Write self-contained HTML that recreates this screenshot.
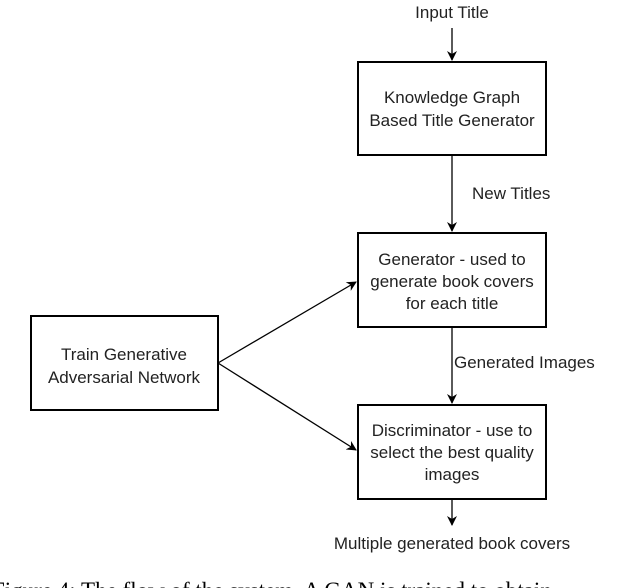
<!DOCTYPE html>
<html><head><style>
html,body{margin:0;padding:0;background:#fff;width:640px;height:588px;overflow:hidden}
svg{display:block}
text{font-family:"Liberation Sans",sans-serif;font-size:17px;fill:#222}
</style></head><body>
<svg width="640" height="588" viewBox="0 0 640 588">
<defs><marker id="a" markerWidth="10" markerHeight="10" refX="9" refY="5" orient="auto" markerUnits="userSpaceOnUse"><path d="M0,0 L10,5 L0,10 L3,5 z" fill="#000"/></marker></defs>
<g stroke="#000" stroke-width="2" fill="none">
<rect x="358" y="62" width="188" height="93"/>
<rect x="358" y="233" width="188" height="94"/>
<rect x="358" y="405" width="188" height="94"/>
<rect x="31" y="316" width="187" height="94"/>
</g>
<g stroke="#000" stroke-width="1.3" fill="none">
<line x1="452" y1="28" x2="452" y2="60" marker-end="url(#a)"/>
<line x1="452" y1="155" x2="452" y2="231" marker-end="url(#a)"/>
<line x1="452" y1="327" x2="452" y2="403" marker-end="url(#a)"/>
<line x1="452" y1="499" x2="452" y2="525" marker-end="url(#a)"/>
<line x1="218" y1="363" x2="356" y2="282" marker-end="url(#a)"/>
<line x1="218" y1="363" x2="356" y2="450" marker-end="url(#a)"/>
</g>
<g text-anchor="middle">
<text x="452" y="18">Input Title</text>
<text x="452" y="103">Knowledge Graph</text>
<text x="452" y="126">Based Title Generator</text>
<text x="452" y="265">Generator - used to</text>
<text x="452" y="287">generate book covers</text>
<text x="452" y="309">for each title</text>
<text x="452" y="436">Discriminator - use to</text>
<text x="452" y="458">select the best quality</text>
<text x="452" y="480">images</text>
<text x="124" y="360">Train Generative</text>
<text x="124" y="383">Adversarial Network</text>
<text x="452" y="549">Multiple generated book covers</text>
</g>
<text x="472" y="199">New Titles</text>
<text x="454" y="368">Generated Images</text>
<text x="-8" y="598" style="font-family:'Liberation Serif',serif;font-size:23px;fill:#000">Figure 4: The flow of the system. A GAN is trained to obtain</text>
</svg>
</body></html>
